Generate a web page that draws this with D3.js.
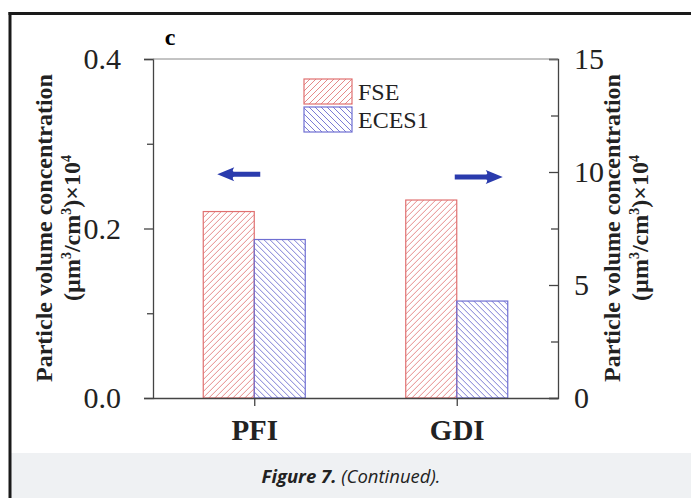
<!DOCTYPE html>
<html lang="en">
<head>
  <meta charset="utf-8">
  <title>Particle volume concentration - Figure 7c</title>
  <script src="https://cdn.jsdelivr.net/npm/d3@7"></script>
  <style>
    body { margin: 0; background: #fff; }
    svg { display: block; }
  </style>
</head>
<body>
  <div id="chart"></div>
  <script>
    // data
    var categories = ["PFI", "GDI"];
    var seriesNames = ["FSE", "ECES1"];
    var fseValues = [0.220, 8.76];     // PFI on left axis, GDI on right axis
    var eces1Values = [0.187, 4.29];
    var leftTicks = [0.0, 0.2, 0.4];
    var leftMinor = [0.1, 0.3];
    var rightTicks = [0, 5, 10, 15];
    var rightMinor = [2.5, 7.5, 12.5];

    var W = 691, H = 498;
    var plotLeft = 153, plotRight = 558, plotTop = 59, plotBottom = 398;

    var svg = d3.select("#chart").append("svg")
      .attr("width", W).attr("height", H);

    // frame + caption box
    svg.append("rect").attr("x", 11).attr("y", 453).attr("width", W - 11).attr("height", H - 453)
      .attr("fill", "#eff1f3");
    svg.append("line").attr("x1", 8.5).attr("x2", W).attr("y1", 13.5).attr("y2", 13.5)
      .attr("stroke", "#1a1a1a").attr("stroke-width", 3);
    svg.append("line").attr("x1", 10).attr("x2", 10).attr("y1", 12).attr("y2", H)
      .attr("stroke", "#1a1a1a").attr("stroke-width", 3);

    var caption = svg.append("text").attr("x", 351).attr("y", 483)
      .attr("text-anchor", "middle")
      .style("font-family", "'Open Sans', 'Noto Sans', sans-serif")
      .style("font-size", "18.5px").style("font-style", "italic").attr("fill", "#222");
    caption.append("tspan").style("font-weight", "bold").text("Figure 7.");
    caption.append("tspan").text(" (Continued).");

    var hatchColor = ["#e58a8a", "#7c7cd4"];
    var strokes = ["#e07070", "#6f6fd2"];
    var defs = svg.append("defs");
    var clipId = 0;

    // draw a hatched rectangle: s = 0 -> "/" lines, s = 1 -> "\" lines
    function hatchRect(parent, bx, by, bw, bh, s) {
      var id = "clip" + (clipId++);
      defs.append("clipPath").attr("id", id)
        .append("rect").attr("x", bx).attr("y", by).attr("width", bw).attr("height", bh);
      var g = parent.append("g").attr("clip-path", "url(#" + id + ")");
      var step = 6;
      d3.range(-bh, bw + step, step).forEach(function (t) {
        if (s === 0) {
          g.append("line").attr("x1", bx + t).attr("y1", by + bh).attr("x2", bx + t + bh).attr("y2", by);
        } else {
          g.append("line").attr("x1", bx + t).attr("y1", by).attr("x2", bx + t + bh).attr("y2", by + bh);
        }
      });
      g.selectAll("line").attr("stroke", hatchColor[s]).attr("stroke-width", 1);
      parent.append("rect").attr("x", bx).attr("y", by).attr("width", bw).attr("height", bh)
        .attr("fill", "none").attr("stroke", strokes[s]).attr("stroke-width", 1.2);
    }

    // scales
    var x = d3.scalePoint().domain(categories).range([plotLeft, plotRight]).padding(0.5);
    var yL = d3.scaleLinear().domain([0, 0.4]).range([plotBottom, plotTop]);
    var yR = d3.scaleLinear().domain([0, 15]).range([plotBottom, plotTop]);
    var scaleFor = [yL, yR];
    var barW = 51;

    // bars
    var bars = [];
    categories.forEach(function (c, i) {
      bars.push({ cat: c, s: 0, v: fseValues[i], y: scaleFor[i] });
      bars.push({ cat: c, s: 1, v: eces1Values[i], y: scaleFor[i] });
    });
    var barLayer = svg.append("g");
    bars.forEach(function (d) {
      var bx = x(d.cat) + (d.s === 0 ? -barW : 0);
      var by = d.y(d.v);
      hatchRect(barLayer, bx, by, barW, plotBottom - by, d.s);
    });

    // axes
    var tickFont = "'Liberation Serif', 'DejaVu Serif', serif";
    var axisColor = "#444";

    svg.append("g").attr("transform", "translate(" + plotLeft + ",0)")
      .call(d3.axisLeft(yL).tickValues(leftTicks).tickFormat(d3.format(".1f")).tickSize(9).tickPadding(23));
    svg.append("g").attr("transform", "translate(" + plotLeft + ",0)")
      .call(d3.axisLeft(yL).tickValues(leftMinor).tickFormat("").tickSize(6))
      .select(".domain").remove();

    svg.append("g").attr("transform", "translate(" + plotRight + ",0)")
      .call(d3.axisRight(yR).tickValues(rightTicks).tickSizeInner(-9).tickSizeOuter(-9).tickPadding(16));
    svg.append("g").attr("transform", "translate(" + plotRight + ",0)")
      .call(d3.axisRight(yR).tickValues(rightMinor).tickFormat("").tickSize(-7))
      .select(".domain").remove();

    var gX = svg.append("g").attr("transform", "translate(0," + plotBottom + ")")
      .call(d3.axisBottom(x).tickSize(8).tickSizeOuter(0).tickPadding(13));
    // top line of the box
    svg.append("line").attr("x1", plotLeft).attr("x2", plotRight).attr("y1", plotTop).attr("y2", plotTop)
      .attr("stroke", "#888").attr("stroke-width", 1);

    svg.selectAll(".domain, .tick line").attr("stroke", axisColor).attr("stroke-width", 1.3);
    svg.selectAll(".tick text").attr("fill", "#222")
      .style("font-family", tickFont).style("font-size", "30px");
    gX.selectAll(".tick text").style("font-weight", "bold").style("font-size", "29px");

    // panel letter
    svg.append("text").attr("x", 170).attr("y", 45).attr("text-anchor", "middle")
      .style("font-family", tickFont).style("font-weight", "bold").style("font-size", "24px")
      .text("c");

    // legend
    var leg = svg.append("g");
    seriesNames.forEach(function (n, i) {
      hatchRect(leg, 304, 79 + i * 28, 48, 25, i);
      leg.append("text").attr("x", 358).attr("y", 79 + i * 28 + 21)
        .style("font-family", tickFont).style("font-size", "24px").attr("fill", "#222")
        .text(n);
    });

    // axis titles
    function axisTitle(cx, cy) {
      var t = svg.append("text")
        .attr("transform", "translate(" + cx + "," + cy + ") rotate(-90)")
        .attr("text-anchor", "middle")
        .style("font-family", tickFont).style("font-weight", "bold").style("font-size", "24px")
        .attr("fill", "#222");
      t.append("tspan").attr("x", 0).attr("y", 0).text("Particle volume concentration");
      var l2 = t.append("tspan").attr("x", 0).attr("y", 28);
      l2.append("tspan").text("(\u00b5m");
      l2.append("tspan").attr("dy", -9).style("font-size", "14px").text("3");
      l2.append("tspan").attr("dy", 9).text("/cm");
      l2.append("tspan").attr("dy", -9).style("font-size", "14px").text("3");
      l2.append("tspan").attr("dy", 9).text(")\u00d710");
      l2.append("tspan").attr("dy", -9).style("font-size", "14px").text("4");
    }
    axisTitle(52, 228);
    axisTitle(620, 228);

    // direction arrows (which axis each group uses)
    var arrowData = [
      { cat: "PFI", x0: -37, x1: 6, v: 0.264, y: yL, dir: -1 },
      { cat: "GDI", x0: -2, x1: 46, v: 9.78, y: yR, dir: 1 }
    ];
    svg.selectAll("path.arrow").data(arrowData).enter().append("path")
      .attr("class", "arrow")
      .attr("fill", "#2a3bad")
      .attr("d", function (d) {
        var cy = d.y(d.v), xa = x(d.cat) + d.x0, xb = x(d.cat) + d.x1;
        var tip = d.dir < 0 ? xa : xb, tail = d.dir < 0 ? xb : xa;
        var hl = 17 * d.dir;
        var base = tip - hl;
        return "M" + tip + "," + cy +
          "L" + base + "," + (cy - 7) +
          "Q" + (base + 3 * d.dir) + "," + (cy - 2.5) + " " + (base) + "," + (cy - 2.5) +
          "L" + tail + "," + (cy - 2.5) +
          "L" + tail + "," + (cy + 2.5) +
          "L" + base + "," + (cy + 2.5) +
          "Q" + (base + 3 * d.dir) + "," + (cy + 2.5) + " " + base + "," + (cy + 7) + "Z";
      });
  </script>
</body>
</html>
